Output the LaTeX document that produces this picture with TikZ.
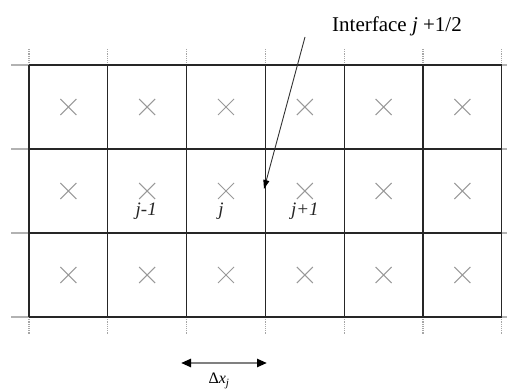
\documentclass[tikz,border=0pt]{standalone}
\usepackage{fontspec}
\setmainfont{Liberation Serif}
\usetikzlibrary{shapes.misc,arrows.meta,calc}
\begin{document}
\begin{tikzpicture}[x=1pt,y=-1pt,
  gridline/.style={black!85,line width=1.2pt},
  tickmark/.style={gray!70,line width=1.2pt,densely dotted},
  lefttick/.style={gray!60,line width=1.6pt},
  xmark/.style={cross out,draw=gray!80,line width=1pt,minimum size=15pt,inner sep=0pt},
  cellname/.style={font=\fontsize{19}{19}\selectfont\itshape,text=black!85,inner sep=0pt,anchor=base},
  pointer/.style={black!80,line width=0.9pt,-{Triangle[length=9pt,width=6pt,color=black]}},
  span/.style={gray,line width=2.4pt,{Triangle[length=10pt,width=8pt,color=black]}-{Triangle[length=10pt,width=8pt,color=black]}}]
\useasboundingbox (0,0) rectangle (507,390);
% grid coordinates
\foreach \i/\x in {0/29,1/107.8,2/186.6,3/265.4,4/344.2,5/423,6/501.8}{
  \coordinate (t\i) at (\x,65);
  \coordinate (b\i) at (\x,317);
  \coordinate (tt\i) at (\x,49);
  \coordinate (bb\i) at (\x,334);
}
\foreach \r/\y in {0/65,1/149,2/233,3/317}{
  \coordinate (l\r) at (29,\y);
  \coordinate (r\r) at (501.8,\y);
  \coordinate (ll\r) at (11,\y);
  \coordinate (rr\r) at (507,\y);
}
% ticks
\foreach \i in {0,...,6}{
  \draw[tickmark] (tt\i) -- (t\i);
  \draw[tickmark] (b\i) -- (bb\i);
}
\foreach \r in {0,...,3}{
  \draw[lefttick] (ll\r) -- (l\r);
  \draw[lefttick] (r\r) -- (rr\r);
}
% grid
\foreach \i in {0,...,6}{ \draw[gridline] (t\i) -- (b\i); }
\foreach \r in {0,...,3}{ \draw[gridline] (l\r) -- (r\r); }
% crosses
\foreach \c/\x in {1/68.4,2/147.2,3/226,4/304.8,5/383.6,6/462.4}{
  \foreach \rr/\y in {1/107,2/191,3/275}{
    \node[xmark] (c\rr\c) at (\x,\y) {};
  }
}
% labels
\node[cellname] (jm) at ($(c22)+(-1,25)$) {j-1};
\node[cellname] (j0) at ($(c23)+(-5,25)$) {j};
\node[cellname] (jp) at ($(c24)+(0,25)$) {j+1};
% interface label and pointer
\node[anchor=base west,inner sep=0pt,font=\fontsize{21}{21}\selectfont] (iface) at (332,32) {Interface \textit{j} +1/2};
\coordinate (astart) at (305,37);
\coordinate (atip) at (264,189);
\draw[pointer] (astart) -- (atip);
% delta x
\coordinate (dl) at (181,363);
\coordinate (dr) at (267,363);
\draw[span] (dl) -- (dr);
\node[font=\fontsize{16}{16}\selectfont,inner sep=0pt,anchor=base] (dx) at (219,384) {Δ\textit{x}\textsubscript{\textit{j}}};
\end{tikzpicture}
\end{document}
